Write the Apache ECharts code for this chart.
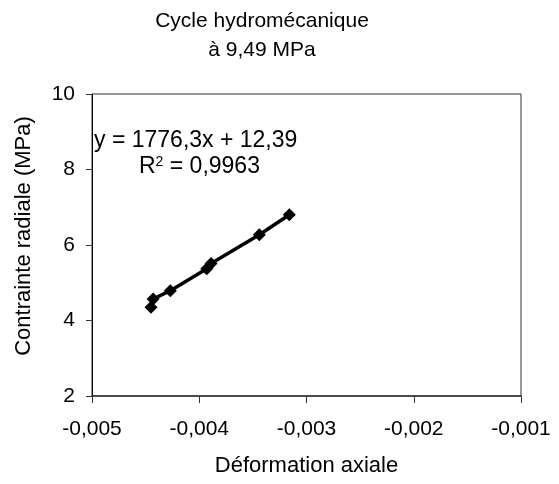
<!DOCTYPE html>
<html>
<head>
<meta charset="utf-8">
<script src="https://cdn.jsdelivr.net/npm/echarts@6/dist/echarts.min.js"></script>
<style>
  html, body { margin: 0; padding: 0; background: #fff; }
  #main { width: 559px; height: 484px; }
</style>
</head>
<body>
<div id="main"></div>
<script>
// déformation axiale (x) et contrainte radiale (y, MPa)
var deformation = [-0.00445, -0.00443, -0.00427, -0.00393, -0.00389, -0.00344, -0.00316];
var contrainte  = [4.35, 4.57, 4.79, 5.37, 5.51, 6.27, 6.80];
var xTicks = [-0.005, -0.004, -0.003, -0.002, -0.001];
var yTicks = [2, 4, 6, 8, 10];

var points = [];
for (var i = 0; i < deformation.length; i++) {
    points.push([deformation[i], contrainte[i]]);
}

var police = 'Liberation Sans, Arial, sans-serif';

var myChart = echarts.init(document.getElementById('main'));
var option = {
    backgroundColor: '#fff',
    animation: false,
    title: {
        text: 'Cycle hydromécanique\nà 9,49 MPa',
        left: 257,
        top: 2,
        textAlign: 'center',
        textStyle: { fontFamily: police, fontSize: 21, fontWeight: 'normal', color: '#000', lineHeight: 29 }
    },
    grid: { left: 92, top: 94, right: 38, bottom: 88, show: true, borderColor: '#333', borderWidth: 1 },
    xAxis: {
        type: 'value',
        min: xTicks[0],
        max: xTicks[xTicks.length - 1],
        interval: 0.001,
        name: 'Déformation axiale',
        nameLocation: 'middle',
        nameGap: 59,
        nameTextStyle: { fontFamily: police, fontSize: 22, color: '#000' },
        axisLine: { lineStyle: { color: '#333', width: 1.5 } },
        axisTick: { show: true, length: 7, lineStyle: { color: '#333' } },
        splitLine: { show: false },
        axisLabel: {
            fontFamily: police, fontSize: 21, color: '#000', margin: 23,
            formatter: function (v) { return v.toFixed(3).replace('.', ','); }
        }
    },
    yAxis: {
        type: 'value',
        min: yTicks[0],
        max: yTicks[yTicks.length - 1],
        interval: 2,
        name: 'Contrainte radiale (MPa)',
        nameLocation: 'middle',
        nameGap: 57,
        nameTextStyle: { fontFamily: police, fontSize: 22, color: '#000', padding: [0, 0, 0, 18] },
        axisLine: { show: true, lineStyle: { color: '#000', width: 1 } },
        axisTick: { show: true, length: 6, lineStyle: { color: '#333' } },
        splitLine: { show: false },
        axisLabel: { fontFamily: police, fontSize: 21, color: '#000', margin: 17 }
    },
    graphic: [
        {
            type: 'text', left: 94, top: 129,
            style: { text: 'y = 1776,3x + 12,39', font: '23px ' + police, fill: '#000' }
        },
        {
            type: 'text', left: 139, top: 155,
            style: {
                text: 'R{s|2} = 0,9963',
                font: '23px ' + police, fill: '#000',
                rich: { s: { fontSize: 14, fontFamily: police, verticalAlign: 'top', padding: [0, 0, 10, 0] } }
            }
        }
    ],
    series: [
        {
            type: 'line',
            data: points,
            symbol: 'diamond',
            symbolSize: 13,
            lineStyle: { color: '#000', width: 3.5 },
            itemStyle: { color: '#000' }
        }
    ]
};
myChart.setOption(option);
window.onresize = myChart.resize;
</script>
</body>
</html>
